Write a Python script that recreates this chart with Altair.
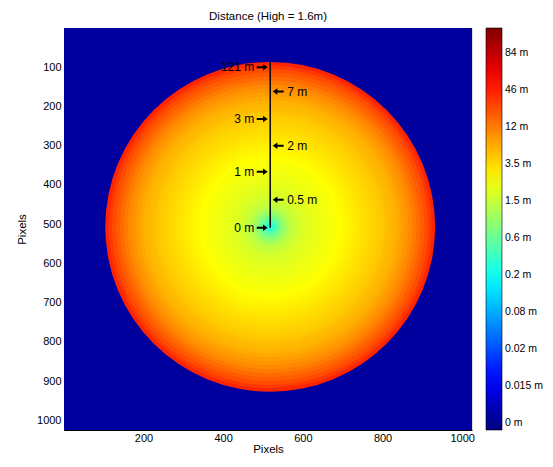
import math
import altair as alt
import pandas as pd

# ---------------- data ----------------
img_extent = [0.5, 1024.5]          # image pixel extent (both axes)
bg_level = 0.03                     # colour level outside the disc
center_x = 518
center_y = 507

# concentric bands of the distance map (radius in image pixels, colour level 0..1)
ring_radius = [417, 408, 400, 390, 380, 370, 360, 350, 340, 330, 320, 310, 300,
               290, 280, 270, 260, 250, 240, 230, 220, 210, 200, 190, 180, 170,
               160, 150, 140, 130, 120, 110, 100, 90, 80, 70, 60, 50, 42, 34,
               26, 18, 10]
ring_level = [0.84, 0.82, 0.80, 0.785, 0.77, 0.755, 0.74, 0.73, 0.72, 0.71, 0.70,
              0.695, 0.69, 0.68, 0.675, 0.67, 0.665, 0.66, 0.655, 0.65, 0.645,
              0.64, 0.635, 0.63, 0.625, 0.62, 0.617, 0.614, 0.61, 0.607, 0.603,
              0.60, 0.595, 0.59, 0.585, 0.575, 0.565, 0.55, 0.53, 0.51, 0.48,
              0.45, 0.41]

# annotation line and arrows
line_top = 88
line_bottom = 509
ann_label = ["121 m", "7 m", "3 m", "2 m", "1 m", "0.5 m", "0 m"]
ann_y = [100.6, 162.3, 232.3, 300.3, 366.5, 437.8, 509.4]
ann_side = ["left", "right", "left", "right", "left", "right", "left"]

# colour bar
cbar_labels = ["0 m", "0.015 m", "0.02 m", "0.08 m", "0.2 m", "0.6 m",
               "1.5 m", "3.5 m", "12 m", "46 m", "84 m"]
cbar_pos = [0.0174 + 0.0921 * i for i in range(len(cbar_labels))]

x_ticks = [200, 400, 600, 800, 1000]
y_ticks = [100, 200, 300, 400, 500, 600, 700, 800, 900, 1000]

# ---------------- chart ----------------
PLOT_W, PLOT_H = 408, 402

jet_domain = [0, 0.125, 0.375, 0.625, 0.875, 1]
jet_range = ["#000080", "#0000ff", "#00ffff", "#ffff00", "#ff0000", "#800000"]

label_arr = "[" + ",".join("'%s'" % s for s in cbar_labels) + "]"
color_scale = alt.Scale(domain=jet_domain, range=jet_range, interpolate="rgb")
color_legend = alt.Legend(
    title=None, orient="right", offset=14, padding=0,
    gradientLength=PLOT_H, gradientThickness=16,
    gradientStrokeColor="#000000", gradientStrokeWidth=0.6,
    values=cbar_pos,
    labelExpr=label_arr + "[round((datum.value-0.0174)/0.0921)]",
    labelFontSize=10.5, labelOffset=3, labelOverlap=False,
    labelFont="Liberation Sans", labelColor="#000000",
)

xs = alt.Scale(domain=img_extent, nice=False, zero=False)
ys = alt.Scale(domain=img_extent, nice=False, zero=False, reverse=True)
rs = alt.Scale(type="linear", domain=[0, 1024], range=[0, 405], zero=True)

x_axis = alt.Axis(title="Pixels", values=x_ticks, format="d", ticks=False, grid=False,
                  labelFontSize=11, titleFontSize=11.5, labelPadding=2,
                  titlePadding=0, titleFontWeight="normal",
                  domainColor="#000000", labelColor="#000000", titleColor="#000000")
y_axis = alt.Axis(title="Pixels", values=y_ticks, format="d", ticks=False, grid=False,
                  labelFontSize=11, titleFontSize=11.5, labelPadding=3,
                  titlePadding=9, titleFontWeight="normal",
                  domainColor="#000000", labelColor="#000000", titleColor="#000000")

bg_df = pd.DataFrame({"x": [img_extent[0]], "x2": [img_extent[1]],
                      "y": [img_extent[0]], "y2": [img_extent[1]],
                      "level": [bg_level]})
bg = alt.Chart(bg_df).mark_rect().encode(
    x=alt.X("x:Q", scale=xs, axis=x_axis), x2="x2:Q",
    y=alt.Y("y:Q", scale=ys, axis=y_axis), y2="y2:Q",
    color=alt.Color("level:Q", scale=color_scale, legend=color_legend),
)

ring_df = pd.DataFrame({"r": ring_radius, "level": ring_level})
ring_df["cx"] = center_x
ring_df["cy"] = center_y
ring_df = ring_df.sort_values("r", ascending=False).reset_index(drop=True)
rings = alt.Chart(ring_df).mark_arc(theta=0, theta2=2 * math.pi, clip=True,
                                    strokeWidth=0).encode(
    x=alt.X("cx:Q", scale=xs),
    y=alt.Y("cy:Q", scale=ys),
    radius=alt.Radius("r:Q", scale=rs, stack=False),
    color=alt.Color("level:Q", scale=color_scale, legend=color_legend),
)

line_df = pd.DataFrame({"x": [center_x], "y": [line_top], "y2": [line_bottom]})
vline = alt.Chart(line_df).mark_rule(color="#000000", strokeWidth=1.5).encode(
    x=alt.X("x:Q", scale=xs), y=alt.Y("y:Q", scale=ys), y2="y2:Q")

ann_df = pd.DataFrame({"label": ann_label, "y": ann_y, "side": ann_side})
ann_df["x"] = center_x
left_df = ann_df[ann_df.side == "left"]
right_df = ann_df[ann_df.side == "right"]

arrow_path = "M -1 -0.18 L 0.15 -0.18 L 0.15 -0.6 L 1 0 L 0.15 0.6 L 0.15 0.18 L -1 0.18 Z"

left_arrows = alt.Chart(left_df).mark_point(
    shape=arrow_path, filled=True, size=120, color="#000000", opacity=1,
    xOffset=-8).encode(x=alt.X("x:Q", scale=xs), y=alt.Y("y:Q", scale=ys))
right_arrows = alt.Chart(right_df).mark_point(
    shape=arrow_path, filled=True, size=120, color="#000000", opacity=1,
    angle=180, xOffset=8).encode(x=alt.X("x:Q", scale=xs), y=alt.Y("y:Q", scale=ys))

left_text = alt.Chart(left_df).mark_text(
    align="right", baseline="middle", dx=-16, fontSize=12,
    font="Liberation Sans", color="#000000").encode(
    x=alt.X("x:Q", scale=xs), y=alt.Y("y:Q", scale=ys), text="label:N")
right_text = alt.Chart(right_df).mark_text(
    align="left", baseline="middle", dx=17, fontSize=12,
    font="Liberation Sans", color="#000000").encode(
    x=alt.X("x:Q", scale=xs), y=alt.Y("y:Q", scale=ys), text="label:N")

chart = alt.layer(bg, rings, vline, left_arrows, right_arrows, left_text, right_text).properties(
    width=PLOT_W, height=PLOT_H,
    title=alt.Title("Distance (High = 1.6m)", fontSize=11.5, fontWeight="normal",
                    font="Liberation Sans", color="#000000", offset=6, anchor="middle"),
    autosize=alt.AutoSizeParams(type="none"),
    padding={"left": 56, "top": 20, "right": 73, "bottom": 25},
).configure_axis(
    labelFont="Liberation Sans", titleFont="Liberation Sans"
).configure_view(
    stroke="#000000", strokeWidth=1
).configure(background="#ffffff")

chart.save("out.html", embed_options={"renderer": "svg", "actions": False})
